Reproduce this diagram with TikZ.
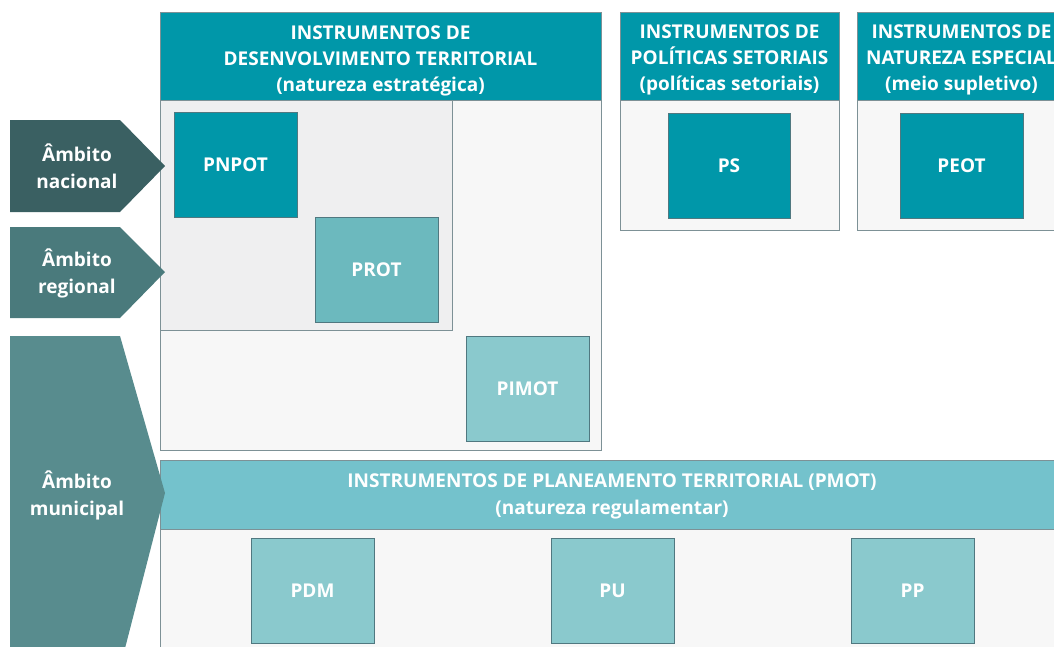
\documentclass[tikz,border=0pt]{standalone}
\usepackage{fontspec}
\setmainfont{Open Sans}
\definecolor{hdr}{RGB}{0,151,169}
\definecolor{nac}{RGB}{58,96,98}
\definecolor{reg}{RGB}{74,122,124}
\definecolor{mun}{RGB}{88,140,142}
\definecolor{protc}{RGB}{108,185,190}
\definecolor{light}{RGB}{138,201,205}
\definecolor{band}{RGB}{116,194,204}
\definecolor{boxbg}{RGB}{247,247,247}
\definecolor{innerbg}{RGB}{239,239,240}
\definecolor{boxline}{RGB}{125,145,150}
\definecolor{sqline}{RGB}{80,120,128}
\begin{document}
\begin{tikzpicture}[x=1pt,y=-1pt,
  frame/.style={draw=boxline, line width=0.8pt, inner sep=0pt, outer sep=0pt},
  panel/.style={frame, fill=boxbg},
  hdrbox/.style={frame, fill=hdr},
  sq/.style={draw=sqline, line width=0.8pt, inner sep=0pt, minimum width=123pt, minimum height=105pt,
     text=white, font=\fontsize{19}{22}\selectfont\bfseries},
  txt/.style={text=white, align=center, font=\fontsize{19}{26}\selectfont\bfseries, inner sep=0pt},
  txtw/.style={txt, font=\fontsize{19}{27}\selectfont\bfseries},
]
\useasboundingbox (0,0) rectangle (1054,646);
\clip (0,0) rectangle (1054,646);
\fill[white] (0,0) rectangle (1054,646);

% Desenvolvimento territorial
\node[panel, minimum width=441pt, minimum height=438pt] (dt) at (380.5,231) {};
\node[hdrbox, minimum width=441pt, minimum height=88pt] (dth) at (380.5,56) {};
\node[txt] (dtt) at (380.5,61) {INSTRUMENTOS DE\\DESENVOLVIMENTO TERRITORIAL\\(natureza estratégica)};
\node[frame, fill=innerbg, minimum width=292pt, minimum height=230pt] (inner) at (306,215) {};
\node[sq, fill=hdr] (pnpot) at (235.5,164.5) {PNPOT};
\node[sq, fill=protc] (prot) at (376.5,269.5) {PROT};
\node[sq, fill=light] (pimot) at (527.5,389) {PIMOT};

% Politicas setoriais
\node[panel, minimum width=219pt, minimum height=218pt] (ps) at (729.5,121) {};
\node[hdrbox, minimum width=219pt, minimum height=88pt] (psh) at (729.5,56) {};
\node[txt] (pst) at (729.5,60) {INSTRUMENTOS DE\\POLÍTICAS SETORIAIS\\(políticas setoriais)};
\node[sq, fill=hdr, minimum width=122pt] (pssq) at (729,165.5) {PS};

% Natureza especial
\node[panel, minimum width=209pt, minimum height=218pt] (pe) at (961.5,121) {};
\node[hdrbox, minimum width=209pt, minimum height=88pt] (peh) at (961.5,56) {};
\node[txt] (pet) at (961.5,60) {INSTRUMENTOS DE\\NATUREZA ESPECIAL\\(meio supletivo)};
\node[sq, fill=hdr] (peot) at (961.5,165.5) {PEOT};

% PMOT
\node[panel, minimum width=904pt, minimum height=200pt] (pm) at (612,560) {};
\node[frame, fill=band, minimum width=904pt, minimum height=69pt] (pmh) at (612,494.5) {};
\node[txtw] (pmt) at (612,496.5) {INSTRUMENTOS DE PLANEAMENTO TERRITORIAL (PMOT)\\(natureza regulamentar)};
\node[sq, fill=light] (pdm) at (312.5,590.5) {PDM};
\node[sq, fill=light] (pu) at (612.5,590.5) {PU};
\node[sq, fill=light] (pp) at (912.5,590.5) {PP};

% Ambito arrows
\fill[nac] (10,120) -- (120,120) -- (165,166) -- (120,212) -- (10,212) -- cycle;
\node[txtw] (anac) at (77,166) {Âmbito\\nacional};
\fill[reg] (10,227) -- (120,227) -- (165,272) -- (120,318) -- (10,318) -- cycle;
\node[txtw] (areg) at (77,273) {Âmbito\\regional};
\fill[mun] (10,336) -- (120,336) -- (165,493) -- (122,660) -- (10,660) -- cycle;
\node[txtw] (amun) at (77,495) {Âmbito\\municipal};
\end{tikzpicture}
\end{document}
